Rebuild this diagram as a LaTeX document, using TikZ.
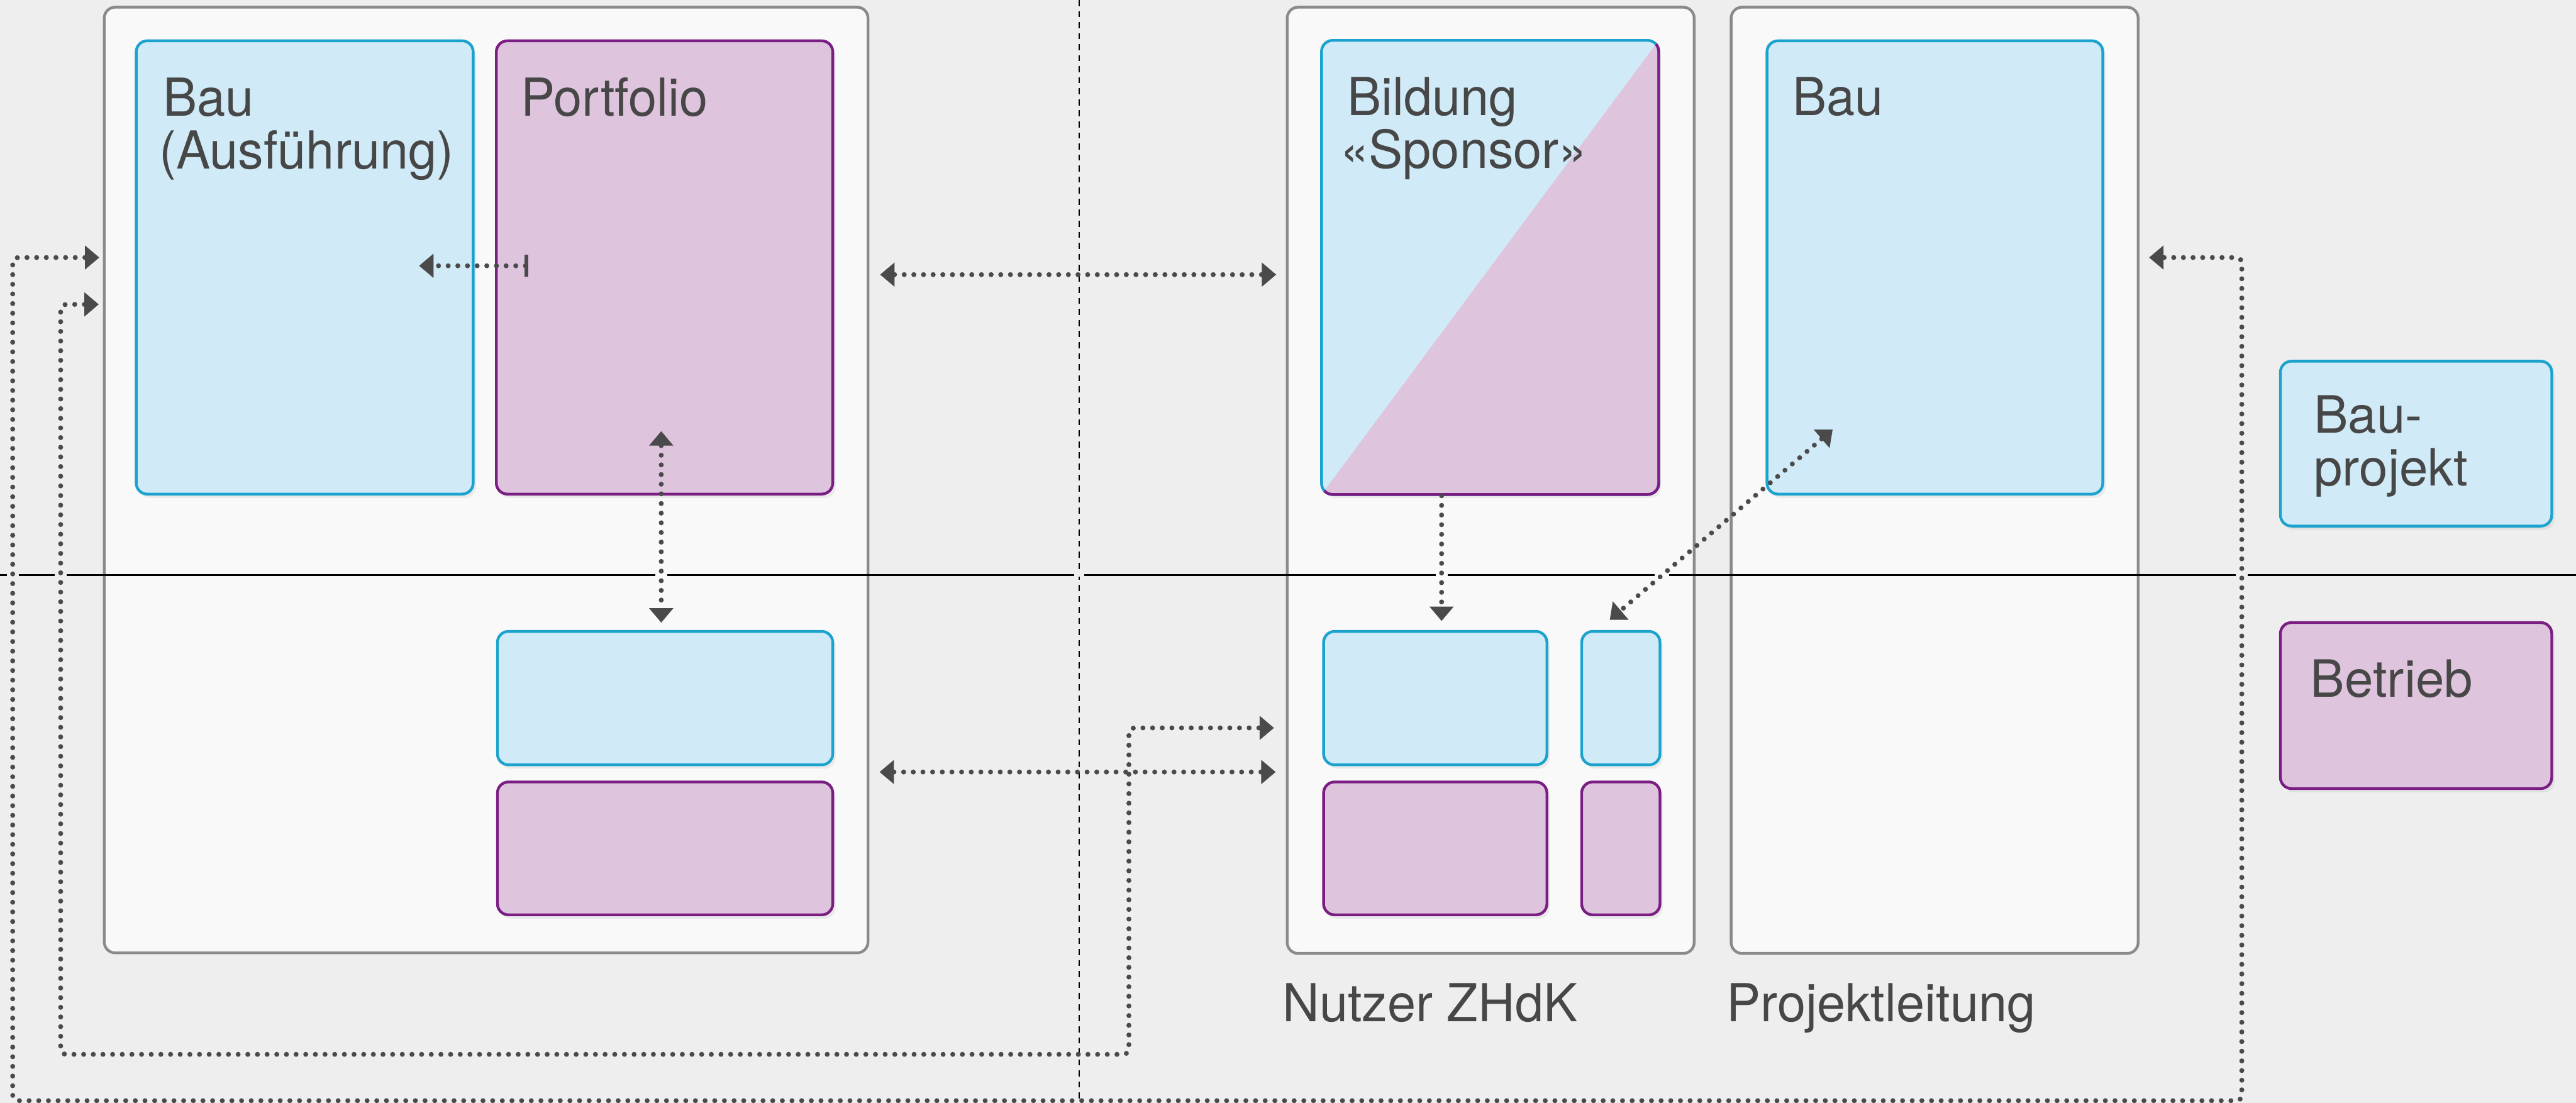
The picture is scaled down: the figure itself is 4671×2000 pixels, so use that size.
\documentclass[tikz,border=0pt]{standalone}
\usepackage{fontspec}
\setmainfont{TeX Gyre Heros}
\newfontfamily\lblfont[FakeStretch=0.975]{TeX Gyre Heros}
\usetikzlibrary{arrows.meta,fit,shadows,calc}
\definecolor{bgc}{HTML}{EDEEED}
\definecolor{boxc}{HTML}{F9F9F9}
\definecolor{outerc}{HTML}{8A8A8A}
\definecolor{bluef}{HTML}{D0EBF7}
\definecolor{bluec}{HTML}{1CA3CD}
\definecolor{purplef}{HTML}{DFC4DE}
\definecolor{purplec}{HTML}{7A1E83}
\definecolor{textc}{HTML}{474747}
\definecolor{connc}{HTML}{4A4A4A}
\begin{document}
\begin{tikzpicture}[x=0.01cm,y=-0.01cm,
  outer/.style={draw=outerc, fill=boxc, line width=0.05cm, rounded corners=0.2cm, inner sep=0pt},
  shadowed/.style={drop shadow={opacity=0.12, shadow xshift=0.05cm, shadow yshift=-0.07cm}},
  bluebox/.style={draw=bluec, fill=bluef, line width=0.05cm, rounded corners=0.2cm, inner sep=0pt, shadowed},
  purplebox/.style={draw=purplec, fill=purplef, line width=0.05cm, rounded corners=0.2cm, inner sep=0pt, shadowed},
  lbl/.style={anchor=base west, inner sep=0pt, text=textc, font=\lblfont\fontsize{27}{27}\selectfont},
  leglbl/.style={anchor=base west, inner sep=0pt, text=textc, font=\fontsize{26.5}{26.5}\selectfont},
  conn/.style={draw=connc, line width=0.09cm, line cap=round, dash pattern=on 0pt off 0.175cm, rounded corners=0.1cm},
  gapout/.style={draw=bgc, line width=0.05cm},
  gapin/.style={draw=boxc, line width=0.05cm},
  >={Triangle[length=0.26cm,width=0.44cm,line width=0pt]}
]
\fill[bgc] (0,0) rectangle (4671,2000);
\useasboundingbox (0,0) rectangle (4671,2000);

% dashed divider
\draw[black, line width=0.02cm, dash pattern=on 0.11cm off 0.09cm] (1957,0) -- (1957,2000);

% outer boxes
\node[outer, fit={(189,13)(1574,1728)}] (ext) {};
\node[outer, fit={(2334,13)(3072,1729)}] (nutzer) {};
\node[outer, fit={(3139,13)(3877,1729)}] (pl) {};

% horizontal divider
\draw[black, line width=0.03cm] (0,1043) -- (4671,1043);
\draw[gapout] (12,1043) -- (34,1043);
\draw[gapout] (99,1043) -- (121,1043);
\draw[gapin] (1188,1043) -- (1210,1043);
\draw[gapout] (1948,1043) -- (1966,1043);
\draw[gapin] (2603,1043) -- (2625,1043);
\draw[gapin] (3000,1043) -- (3026,1043);
\draw[gapout] (4054,1043) -- (4076,1043);

% inner boxes, left
\node[bluebox, fit={(247,74)(858,896)}] (bauA) {};
\node[purplebox, fit={(900,74)(1510,896)}] (portfolio) {};
\node[bluebox, fit={(902,1145)(1510,1387)}] (lblue) {};
\node[purplebox, fit={(902,1418)(1510,1659)}] (lpurple) {};

% Bildung (split)
\node[fill=bluef, rounded corners=0.2cm, inner sep=0pt, shadowed, fit={(2397,74)(3007,896)}] (bildung) {};
\begin{scope}
  \clip[rounded corners=0.2cm] (bildung.south west) rectangle (bildung.north east);
  \fill[purplef] (bildung.south west) -- (bildung.north east) -- (bildung.south east) -- cycle;
\end{scope}
\draw[bluec, line width=0.05cm, rounded corners=0.2cm] (bildung.south west) rectangle (bildung.north east);
\begin{scope}
  \clip ($(bildung.south west)!-0.05!(bildung.north east)$) -- ($(bildung.south west)!1.05!(bildung.north east)$)
    -- ([shift={(150,-50)}]bildung.north east) -- ([shift={(150,150)}]bildung.south east)
    -- ([shift={(-50,150)}]bildung.south west) -- cycle;
  \draw[purplec, line width=0.05cm, rounded corners=0.2cm] (bildung.south west) rectangle (bildung.north east);
\end{scope}

\node[bluebox, fit={(2400,1145)(2805,1387)}] (nblueA) {};
\node[bluebox, fit={(2868,1145)(3010,1387)}] (nblueB) {};
\node[purplebox, fit={(2400,1418)(2805,1659)}] (npurA) {};
\node[purplebox, fit={(2868,1418)(3010,1659)}] (npurB) {};

\node[bluebox, fit={(3204,74)(3813,896)}] (bauR) {};

% legend
\node[bluebox, fit={(4135,655)(4627,954)}] (legBau) {};
\node[purplebox, fit={(4135,1129)(4627,1430)}] (legBet) {};

% connector end points
\coordinate (o1) at (180,467);
\coordinate (o2) at (3897,467);
\coordinate (i1) at (179,552);
\coordinate (i2) at (2310,1320);
\coordinate (pBar) at (958,482);
\coordinate (pTip) at (760,482);
\coordinate (pvU) at (1199,782);
\coordinate (pvD) at (1199,1129);
\coordinate (mU1) at (1596,498);
\coordinate (mU2) at (2314,498);
\coordinate (mL1) at (1595,1400);
\coordinate (mL2) at (2313,1400);
\coordinate (bD1) at (2614,899);
\coordinate (bD2) at (2614,1126);
\coordinate (dg1) at (3323,779);
\coordinate (dg2) at (2919,1124);

% connectors
\draw[conn, <->] (o1) -- (23,467) -- (23,1996) -- (4065,1996) -- (4065,467) -- (o2);
\draw[conn, <->] (i1) -- (110,552) -- (110,1912) -- (2047,1912) -- (2047,1320) -- (i2);
\draw[conn, arrows={Bar[width=0.4cm,line width=0.07cm]->}] (pBar) -- (pTip);
\draw[conn, <->] (pvU) -- (pvD);
\draw[conn, <->] (mU1) -- (mU2);
\draw[conn, <->] (mL1) -- (mL2);
\draw[conn, ->] (bD1) -- (bD2);
\draw[conn, <->] (dg1) -- (dg2);

% labels
\node[lbl] (tBau1) at (295,210) {Bau};
\node[lbl] (tBau2) at (288,306) {(Ausführung)};
\node[lbl] (tPort) at (944,210) {Portfolio};
\node[lbl] (tBild1) at (2442,209) {Bildung};
\node[lbl] (tBild2) at (2430,305) {«Sponsor»};
\node[lbl] (tBauR) at (3250,209) {Bau};
\node[lbl] (tNutzer) at (2325,1853) {Nutzer ZHdK};
\node[lbl] (tPL) at (3130,1853) {Projektleitung};
\node[leglbl] (tLeg1) at (4195,785) {Bau-};
\node[leglbl] (tLeg2) at (4195,881) {projekt};
\node[leglbl] (tLeg3) at (4189,1264) {Betrieb};
\end{tikzpicture}
\end{document}
